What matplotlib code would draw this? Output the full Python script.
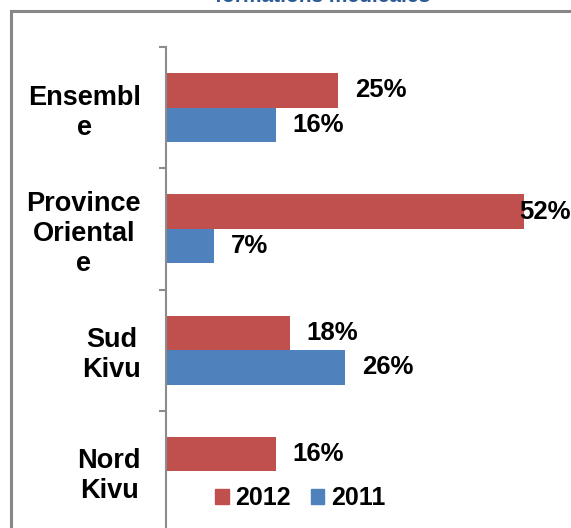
import matplotlib
matplotlib.use("Agg")
import matplotlib.pyplot as plt
from matplotlib.patches import Patch, Rectangle
import numpy as np

categories = ["Ensembl\ne", "Province\nOriental\ne", "Sud\nKivu", "Nord\nKivu"]
series_2012 = [25, 52, 18, 16]
series_2011 = [16, 7, 26, np.nan]
series_names = ["2012", "2011"]
title = "formations médicales"

RED = "#C0504D"
BLUE = "#4F81BD"
W, H = 571, 528
plt.rcParams['font.family'] = ['Liberation Sans', 'DejaVu Sans']

fig = plt.figure(figsize=(W / 100, H / 100), dpi=100)

# chart frame
fig.patches.append(Rectangle((11 / W, -0.1), 1.2, 1 - 11 / H + 0.1, transform=fig.transFigure,
                             fill=False, edgecolor="#878787", linewidth=2.2, zorder=0))
fig.text(323 / W, 1 - 1.5 / H, title, ha="center", va="baseline", fontsize=15,
         fontweight="bold", color="#2C5A97")

px_per_unit = 6.885
xmax = 60
ax = fig.add_axes([166 / W, 1 - 532 / H, xmax * px_per_unit / W, 485 / H])
ax.patch.set_alpha(0)

y = np.arange(len(categories))
h = 0.285
ax.barh(y - h / 2, series_2012, height=h, color=RED, label=series_names[0])
ax.barh(y + h / 2, series_2011, height=h, color=BLUE, label=series_names[1])
ax.set_xlim(0, xmax)
ax.set_ylim(len(categories) - 0.5, -0.5)

for vals, off in ((series_2012, -h / 2), (series_2011, h / 2)):
    for yi, v in zip(y, vals):
        if np.isnan(v):
            continue
        if v > 45:
            ax.annotate(f"{v:.0f}%", xy=(1.0, yi + off), xycoords=("figure fraction", "data"),
                        xytext=(0, 0), textcoords="offset points", ha="right", va="center",
                        fontsize=18.5, fontweight="bold", annotation_clip=False)
        else:
            ax.annotate(f"{v:.0f}%", xy=(v, yi + off), xytext=(12, 0), textcoords="offset points",
                        ha="left", va="center", fontsize=18.5, fontweight="bold")

for s in ("top", "right", "bottom"):
    ax.spines[s].set_visible(False)
ax.spines["left"].set_color("#8C8C8C")
ax.spines["left"].set_linewidth(1.5)
ax.set_xticks([])
ax.set_yticks(y)
ax.set_yticklabels(categories, ha="right", multialignment="center",
                   fontsize=19.5, fontweight="bold", linespacing=1.2)
ax.set_yticks(np.arange(len(categories) + 1) - 0.5, minor=True)
ax.tick_params(axis="y", which="major", length=0, pad=18)
ax.tick_params(axis="y", which="minor", length=5, width=1.5, color="#8C8C8C")

handles = [Patch(color=RED), Patch(color=BLUE)]
fig.legend(handles, series_names, loc="center", bbox_to_anchor=(300 / W, 1 - 498 / H),
           ncol=2, frameon=False, handlelength=0.55, handleheight=0.55, handletextpad=0.25,
           columnspacing=0.8, borderpad=0, prop={"size": 18, "weight": "bold"})

fig.savefig("out.png", dpi=100)
